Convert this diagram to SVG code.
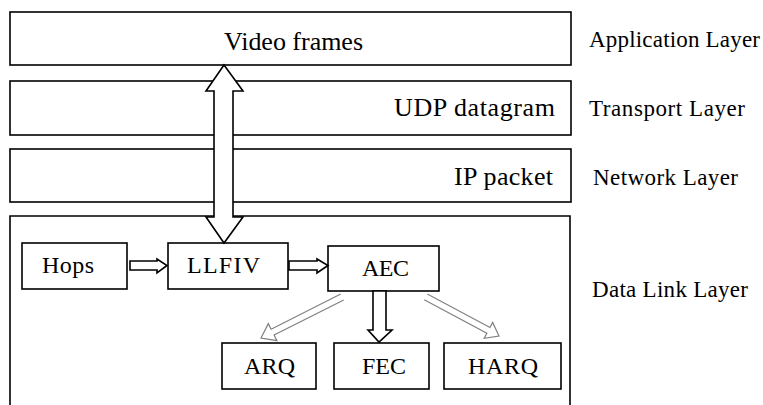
<svg xmlns="http://www.w3.org/2000/svg" width="763" height="405" viewBox="0 0 763 405">
<style>
.box{fill:#fff;stroke:#000;stroke-width:1.6}
.t{font-family:"Liberation Serif","Times New Roman",serif;fill:#000}
.big{font-size:26px}
.lbl{font-size:23px}
.node{font-size:24px;text-anchor:middle}
.conn{fill:#fff;stroke:#000;stroke-width:1.6;stroke-linejoin:miter}
.gray{fill:none;stroke:#808080;stroke-width:1.2}
</style>
<rect width="763" height="405" fill="#fff"/>
<g id="application-layer">
<rect class="box" x="10" y="12" width="561" height="53"/>
<text class="t big" x="224" y="50" textLength="139" lengthAdjust="spacing">Video  frames</text>
<text class="t lbl" x="589" y="47" textLength="171" lengthAdjust="spacing">Application Layer</text>
</g>
<g id="transport-layer">
<rect class="box" x="10" y="81" width="561" height="54"/>
<text class="t big" x="394" y="116" textLength="161" lengthAdjust="spacing">UDP  datagram</text>
<text class="t lbl" x="589" y="116" textLength="156" lengthAdjust="spacing">Transport Layer</text>
</g>
<g id="network-layer">
<rect class="box" x="10" y="149" width="561" height="53"/>
<text class="t big" x="454" y="185" textLength="99" lengthAdjust="spacing">IP packet</text>
<text class="t lbl" x="593" y="185" textLength="145" lengthAdjust="spacing">Network Layer</text>
</g>
<g id="data-link-layer">
<path class="box" d="M10,410 L10,216 L570,216 L570,410"/>
<text class="t lbl" x="592" y="297" textLength="156" lengthAdjust="spacing">Data Link Layer</text>
</g>
<g id="hops">
<rect class="box" x="22" y="243" width="105" height="46"/>
<text class="t node" x="68" y="273" textLength="52" lengthAdjust="spacing">Hops</text>
</g>
<g id="llfiv">
<rect class="box" x="168" y="243" width="120" height="46"/>
<text class="t node" x="223.5" y="273" textLength="73" lengthAdjust="spacing">LLFIV</text>
</g>
<g id="aec">
<rect class="box" x="328" y="246" width="111" height="45"/>
<text class="t node" x="385.5" y="276" textLength="47" lengthAdjust="spacing">AEC</text>
</g>
<g id="arq">
<rect class="box" x="222" y="343" width="94" height="46"/>
<text class="t node" x="269.5" y="374" textLength="51" lengthAdjust="spacing">ARQ</text>
</g>
<g id="fec">
<rect class="box" x="334" y="343" width="95" height="46"/>
<text class="t node" x="384" y="374" textLength="44" lengthAdjust="spacing">FEC</text>
</g>
<g id="harq">
<rect class="box" x="444" y="343" width="117" height="46"/>
<text class="t node" x="503" y="374" textLength="70" lengthAdjust="spacing">HARQ</text>
</g>
<g id="connectors">
<polygon class="conn" points="224,65 243,91 233,91 233,217 243,217 224,243 206,217 214,217 214,91 206,91"/>
<polygon class="conn" points="130,261 157,261 157,259 167,265.5 157,273 157,270 130,270"/>
<polygon class="conn" points="289,261 317,261 317,259 328,265.5 317,273 317,270 289,270"/>
<polygon class="conn" points="373,291 386,291 386,330 392,330 379,342 368,330 373,330"/>
<path class="gray" transform="translate(261,338) rotate(153.2)" d="M-91,-3.3 L-13,-3.3 L-13,-9.5 L0,0 L-13,9.5 L-13,3.3 L-91,3.3"/>
<path class="gray" transform="translate(499,336) rotate(28.1)" d="M-83,-3.3 L-12,-3.3 L-12,-9 L0,0 L-12,9 L-12,3.3 L-83,3.3"/>
</g>
</svg>
